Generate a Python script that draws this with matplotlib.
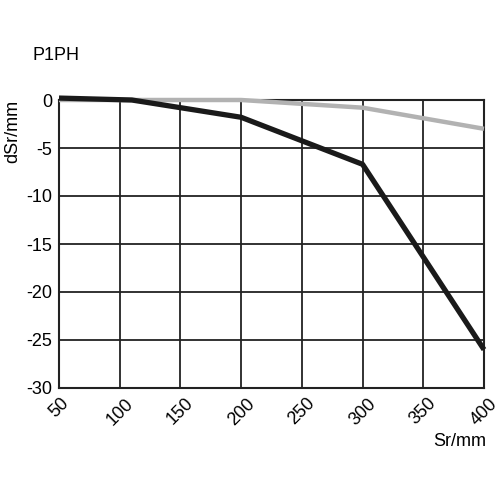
import matplotlib
matplotlib.use("Agg")
import matplotlib.pyplot as plt

# Sr in mm, dSr in mm
sr_black = [50, 110, 200, 300, 400]
dsr_black = [0.2, 0.0, -1.8, -6.7, -26.0]
sr_grey = [50, 110, 200, 300, 400]
dsr_grey = [0.0, 0.0, 0.0, -0.8, -3.0]

x_ticks = [50, 100, 150, 200, 250, 300, 350, 400]
y_ticks = [0, -5, -10, -15, -20, -25, -30]

plt.rcParams['font.family'] = ['Liberation Sans', 'DejaVu Sans']

fig = plt.figure(figsize=(5, 5), dpi=100)
ax = fig.add_axes([0.118, 0.224, 0.85, 0.576])

ax.plot(sr_grey, dsr_grey, color='#b2b2b2', lw=3.2, solid_capstyle='butt', clip_on=False, zorder=3)
ax.plot(sr_black, dsr_black, color='#1a1a1a', lw=3.8, solid_capstyle='butt', clip_on=False, zorder=4)

ax.set_xlim(50, 400)
ax.set_ylim(-30, 0)
ax.set_xticks(x_ticks)
ax.set_yticks(y_ticks)
ax.set_xticklabels([str(v) for v in x_ticks], rotation=45, fontsize=13)
ax.set_yticklabels([str(v) for v in y_ticks], fontsize=13)
ax.tick_params(length=0, pad=5)
ax.grid(True, color='#222222', lw=1.3)
for s in ax.spines.values():
    s.set_linewidth(1.5)
    s.set_color('#222222')

fig.text(0.064, 0.888, 'P1PH', fontsize=13, va='center')
fig.text(0.025, 0.8, 'dSr/mm', fontsize=13, rotation=90, va='top', ha='center')
fig.text(0.972, 0.117, 'Sr/mm', fontsize=13, ha='right', va='center')

fig.savefig('out.png', dpi=100)
